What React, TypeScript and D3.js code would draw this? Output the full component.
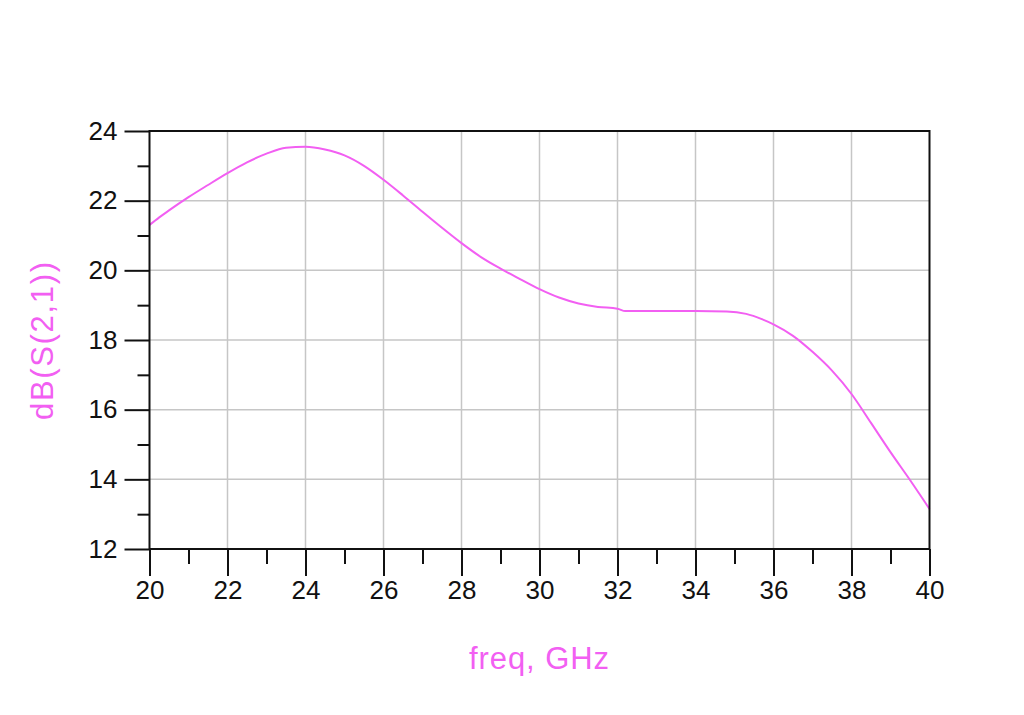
import React, { useEffect, useRef } from 'react';
import * as d3 from 'd3';

// frequency in GHz, gain in dB
const freqGHz = [
  20, 20.25, 20.5, 21, 21.5, 22, 22.5, 23, 23.5, 24, 24.5, 25, 25.5, 26, 26.5, 27, 27.5,
  28, 28.5, 29, 29.5, 30, 30.5, 31, 31.5, 32, 32.2, 33, 34, 34.8, 35.3, 35.7, 36, 36.5,
  37, 37.5, 38, 38.5, 39, 39.5, 40,
];
const s21dB = [
  21.3, 21.52, 21.72, 22.1, 22.45, 22.79, 23.1, 23.35, 23.52, 23.55, 23.47, 23.3, 23.0,
  22.6, 22.15, 21.68, 21.22, 20.78, 20.38, 20.05, 19.75, 19.46, 19.22, 19.05, 18.95, 18.9,
  18.83, 18.83, 18.83, 18.82, 18.75, 18.6, 18.45, 18.12, 17.66, 17.12, 16.45, 15.62, 14.78,
  13.98, 13.15,
];

const xMajor = [20, 22, 24, 26, 28, 30, 32, 34, 36, 38, 40];
const xMinor = [21, 23, 25, 27, 29, 31, 33, 35, 37, 39];
const yMajor = [12, 14, 16, 18, 20, 22, 24];
const yMinor = [13, 15, 17, 19, 21, 23];

const xLabel = 'freq, GHz';
const yLabel = 'dB(S(2,1))';

const W = 1024;
const H = 715;
const left = 149.5;
const right = 929.5;
const top = 131;
const bottom = 549;
const pink = '#f25ff2';
const font = '"Liberation Sans", Arial, sans-serif';

const App = () => {
  const ref = useRef<SVGSVGElement>(null);

  useEffect(() => {
    if (!ref.current) return;
    const svg = d3.select(ref.current);
    svg.selectAll('*').remove();

    const x = d3.scaleLinear().domain([20, 40]).range([left, right]);
    const y = d3.scaleLinear().domain([12, 24]).range([bottom, top]);

    // grid
    const grid = svg.append('g').attr('stroke', '#c6c6c6').attr('stroke-width', 1.5);
    grid.selectAll('line.gx')
      .data(xMajor.slice(1, -1))
      .join('line')
      .attr('x1', (d) => x(d)).attr('x2', (d) => x(d))
      .attr('y1', top).attr('y2', bottom);
    grid.selectAll('line.gy')
      .data(yMajor.slice(1, -1))
      .join('line')
      .attr('class', 'gy')
      .attr('y1', (d) => y(d)).attr('y2', (d) => y(d))
      .attr('x1', left).attr('x2', right);

    // curve
    const line = d3.line<number>()
      .x((_, i) => x(freqGHz[i]))
      .y((d) => y(d))
      .curve(d3.curveMonotoneX);
    svg.append('path')
      .datum(s21dB)
      .attr('fill', 'none')
      .attr('stroke', pink)
      .attr('stroke-width', 2)
      .attr('d', line);

    // frame
    svg.append('rect')
      .attr('x', left).attr('y', top)
      .attr('width', right - left).attr('height', bottom - top)
      .attr('fill', 'none').attr('stroke', '#111').attr('stroke-width', 2);

    const styleAxis = (g: any) => {
      g.select('.domain').remove();
      g.selectAll('line').attr('stroke', '#111').attr('stroke-width', 2);
      g.selectAll('text')
        .attr('fill', '#111')
        .style('font-family', font)
        .style('font-size', '26px');
    };

    // x axis
    svg.append('g')
      .attr('transform', `translate(0,${bottom})`)
      .call(d3.axisBottom(x).tickValues(xMajor).tickSize(27).tickPadding(5).tickFormat(d3.format('d')))
      .call(styleAxis);
    svg.append('g')
      .attr('transform', `translate(0,${bottom})`)
      .call(d3.axisBottom(x).tickValues(xMinor).tickSize(15).tickFormat(() => ''))
      .call(styleAxis);

    // y axis
    svg.append('g')
      .attr('transform', `translate(${left},0)`)
      .call(d3.axisLeft(y).tickValues(yMajor).tickSize(25).tickPadding(7).tickFormat(d3.format('d')))
      .call(styleAxis);
    svg.append('g')
      .attr('transform', `translate(${left},0)`)
      .call(d3.axisLeft(y).tickValues(yMinor).tickSize(12).tickFormat(() => ''))
      .call(styleAxis);

    // axis titles
    svg.append('text')
      .attr('x', 539).attr('y', 669)
      .attr('text-anchor', 'middle')
      .attr('fill', pink)
      .attr('textLength', 140)
      .style('font-family', font)
      .style('font-size', '31px')
      .text(xLabel);
    svg.append('text')
      .attr('transform', 'translate(53,341) rotate(-90)')
      .attr('text-anchor', 'middle')
      .attr('fill', pink)
      .attr('textLength', 158)
      .style('font-family', font)
      .style('font-size', '31px')
      .text(yLabel);
  }, []);

  return (
    <svg
      ref={ref}
      width={W}
      height={H}
      style={{ position: 'absolute', left: 0, top: 0, background: '#fff' }}
    ></svg>
  );
};

export default App;
